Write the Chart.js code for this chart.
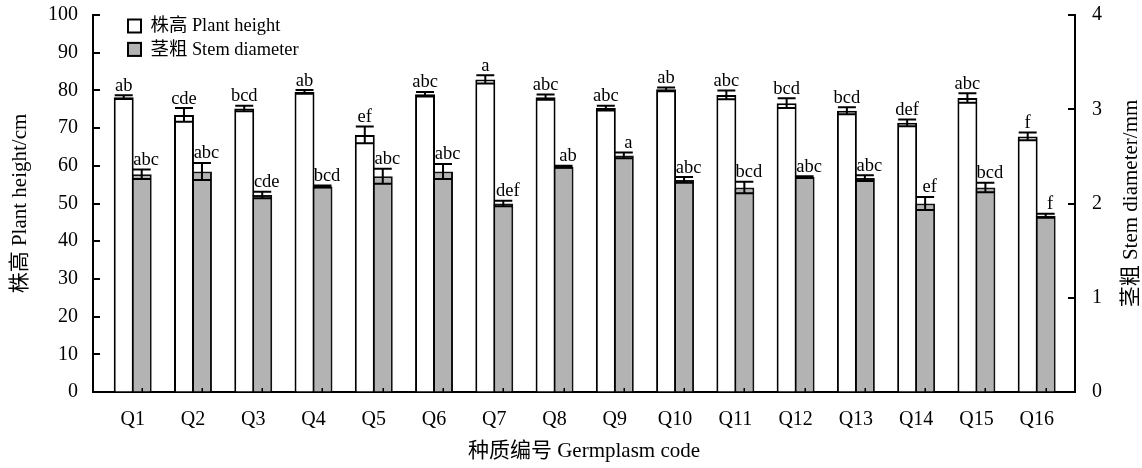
<!DOCTYPE html>
<html>
<head>
<meta charset="utf-8">
<script src="https://cdn.jsdelivr.net/npm/chart.js@4.4.1/dist/chart.umd.min.js"></script>
<style>
  html, body { margin: 0; padding: 0; background: #ffffff; }
  #wrap { width: 1142px; height: 468px; position: relative; }
</style>
</head>
<body>
<div id="wrap"><canvas id="chart"></canvas></div>
<script>
// Germplasm codes (x categories)
const codes = ['Q1','Q2','Q3','Q4','Q5','Q6','Q7','Q8','Q9','Q10','Q11','Q12','Q13','Q14','Q15','Q16'];

// Plant height (cm): means, standard errors, significance letters
const plantHeight   = [78.2, 73.5, 75.2, 79.6, 68.2, 79.0, 82.9, 78.2, 75.3, 80.3, 78.8, 76.6, 74.6, 71.4, 78.0, 67.8];
const plantHeightSE = [0.5, 1.8, 0.7, 0.5, 2.2, 0.6, 1.1, 0.7, 0.6, 0.5, 1.15, 1.3, 0.9, 0.9, 1.25, 1.0];
const plantHeightLetters = ['ab','cde','bcd','ab','ef','abc','a','abc','abc','ab','abc','bcd','bcd','def','abc','f'];

// Stem diameter (mm): means, standard errors, significance letters
const stemDiameter   = [2.31, 2.34, 2.09, 2.18, 2.29, 2.34, 2.00, 2.39, 2.51, 2.25, 2.17, 2.28, 2.27, 2.00, 2.17, 1.87];
const stemDiameterSE = [0.05, 0.09, 0.035, 0.01, 0.08, 0.08, 0.03, 0.01, 0.03, 0.03, 0.06, 0.01, 0.03, 0.07, 0.05, 0.02];
const stemDiameterLetters = ['abc','abc','cde','bcd','abc','abc','def','ab','a','abc','bcd','abc','abc','ef','bcd','f'];

// Axis ranges and titles
const heightAxis = { min: 0, max: 100, step: 10 };
const stemAxis   = { min: 0, max: 4, step: 1 };
const heightAxisTitle = '株高 Plant height/cm';
const stemAxisTitle   = '茎粗 Stem diameter/mm';
const xAxisTitle      = '种质编号 Germplasm code';

const FAMILY = "'Liberation Serif', 'Times New Roman', 'Noto Sans CJK SC', serif";

// Error bars and significance letters above each bar
const errorBars = {
  id: 'errorBars',
  afterDatasetsDraw(chart) {
    const ctx = chart.ctx;
    chart.data.datasets.forEach((ds, di) => {
      const meta = chart.getDatasetMeta(di);
      const scale = chart.scales[ds.yAxisID];
      meta.data.forEach((bar, i) => {
        const v = ds.data[i].y, e = ds.errors[i];
        const yTop = scale.getPixelForValue(v + e);
        const yBot = scale.getPixelForValue(v - e);
        const half = bar.width / 2 - 1;
        ctx.save();
        ctx.strokeStyle = '#000';
        ctx.lineWidth = 2;
        ctx.beginPath();
        ctx.moveTo(bar.x, yTop); ctx.lineTo(bar.x, yBot);
        ctx.moveTo(bar.x - half, yTop); ctx.lineTo(bar.x + half, yTop);
        ctx.moveTo(bar.x - half, yBot); ctx.lineTo(bar.x + half, yBot);
        ctx.stroke();
        ctx.font = '18.5px ' + FAMILY;
        ctx.fillStyle = '#000';
        ctx.textAlign = 'center';
        ctx.textBaseline = 'alphabetic';
        ctx.fillText(ds.letters[i], bar.x + ds.letterShift, yTop - 4.5);
        ctx.restore();
      });
    });
  }
};

// Inward tick marks on both y axes and along the x axis
const innerTicks = {
  id: 'innerTicks',
  afterDatasetsDraw(chart) {
    const { ctx, chartArea: a, scales } = chart;
    ctx.save();
    ctx.strokeStyle = '#000';
    ctx.lineWidth = 2;
    ctx.beginPath();
    scales.y.ticks.forEach(t => {
      const py = Math.round(scales.y.getPixelForValue(t.value));
      ctx.moveTo(a.left, py); ctx.lineTo(a.left + 7, py);
    });
    scales.y1.ticks.forEach(t => {
      const py = Math.round(scales.y1.getPixelForValue(t.value));
      ctx.moveTo(a.right - 7, py); ctx.lineTo(a.right, py);
    });
    ctx.stroke();
    ctx.lineWidth = 1.5;
    ctx.beginPath();
    chart.getDatasetMeta(1).data.forEach(b => {
      ctx.moveTo(Math.round(b.x) + 0.25, a.bottom); ctx.lineTo(Math.round(b.x) + 0.25, a.bottom - 4);
    });
    ctx.stroke();
    ctx.restore();
  }
};

// Boxed legend in the upper-left of the plot, plus the right axis title
const boxLegend = {
  id: 'boxLegend',
  afterDraw(chart) {
    const { ctx, chartArea: a } = chart;
    ctx.save();
    chart.data.datasets.forEach((ds, i) => {
      const x = a.left + 34, y = a.top + 3.5 + i * 23.4;
      ctx.fillStyle = ds.backgroundColor;
      ctx.fillRect(x, y, 15, 15);
      ctx.strokeStyle = '#000';
      ctx.lineWidth = 2;
      ctx.strokeRect(x + 1, y + 1, 13, 13);
      ctx.fillStyle = '#000';
      ctx.font = '18.4px ' + FAMILY;
      ctx.textAlign = 'left';
      ctx.textBaseline = 'middle';
      ctx.fillText(ds.label, x + 23.5, y + 8);
    });
    const r = chart.scales.y1;
    ctx.translate(r.right - 11, (a.top + a.bottom) / 2);
    ctx.rotate(-Math.PI / 2);
    ctx.font = '21px ' + FAMILY;
    ctx.textAlign = 'center';
    ctx.textBaseline = 'middle';
    ctx.fillStyle = '#000';
    ctx.fillText(stemAxisTitle, 0, 0);
    ctx.restore();
  }
};

const tickFont = { family: FAMILY, size: 20 };
const titleFont = { family: FAMILY, size: 21 };

// Fixed axis widths; label overhang padding is cleared so the plot spans the full frame
const fixVertical = w => s => { s.width = w; s.paddingTop = 0; s.paddingBottom = 0; };

new Chart(document.getElementById('chart'), {
  type: 'bar',
  data: {
    datasets: [
      {
        label: '株高 Plant height',
        data: codes.map((c, i) => ({ x: i, y: plantHeight[i] })),
        errors: plantHeightSE,
        letters: plantHeightLetters,
        letterShift: 0,
        yAxisID: 'y',
        backgroundColor: '#ffffff',
        borderColor: '#000000',
        borderWidth: 2,
        borderSkipped: 'start',
        categoryPercentage: 0.597,
        barPercentage: 1.11
      },
      {
        label: '茎粗 Stem diameter',
        data: codes.map((c, i) => ({ x: i, y: stemDiameter[i] })),
        errors: stemDiameterSE,
        letters: stemDiameterLetters,
        letterShift: 4.5,
        yAxisID: 'y1',
        backgroundColor: '#b3b3b3',
        borderColor: '#111111',
        borderWidth: 2,
        borderSkipped: 'start',
        categoryPercentage: 0.597,
        barPercentage: 1.11
      }
    ]
  },
  options: {
    responsive: true,
    maintainAspectRatio: false,
    animation: false,
    layout: { padding: { top: 15, left: 0, right: 0, bottom: 0 } },
    plugins: { legend: { display: false }, tooltip: { enabled: false } },
    scales: {
      x: {
        type: 'linear',
        min: -0.659,
        max: 15.636,
        offset: false,
        grid: { display: true, drawOnChartArea: false, drawTicks: false },
        border: { display: true, color: '#000', width: 2 },
        ticks: {
          stepSize: 1, includeBounds: false, autoSkip: false, maxRotation: 0, minRotation: 0,
          padding: 16, color: '#000', font: tickFont,
          callback: v => (Number.isInteger(v) && codes[v]) ? codes[v] : ''
        },
        title: { display: true, text: xAxisTitle, color: '#000', font: titleFont, padding: { top: 0, bottom: 4 } },
        afterFit: s => { s.height = 76; s.paddingLeft = 0; s.paddingRight = 0; }
      },
      y: {
        position: 'left',
        min: heightAxis.min, max: heightAxis.max,
        grid: { display: true, drawOnChartArea: false, drawTicks: false },
        border: { display: true, color: '#000', width: 2 },
        ticks: { stepSize: heightAxis.step, padding: 15, color: '#000', font: tickFont },
        title: { display: true, text: heightAxisTitle, color: '#000', font: titleFont, padding: { top: 8, bottom: 0 } },
        afterFit: fixVertical(93)
      },
      y1: {
        position: 'right',
        min: stemAxis.min, max: stemAxis.max,
        grid: { display: true, drawOnChartArea: false, drawTicks: false },
        border: { display: true, color: '#000', width: 2 },
        ticks: { stepSize: stemAxis.step, padding: 17, color: '#000', font: tickFont },
        afterFit: fixVertical(67)
      }
    }
  },
  plugins: [errorBars, innerTicks, boxLegend]
});
</script>
</body>
</html>
